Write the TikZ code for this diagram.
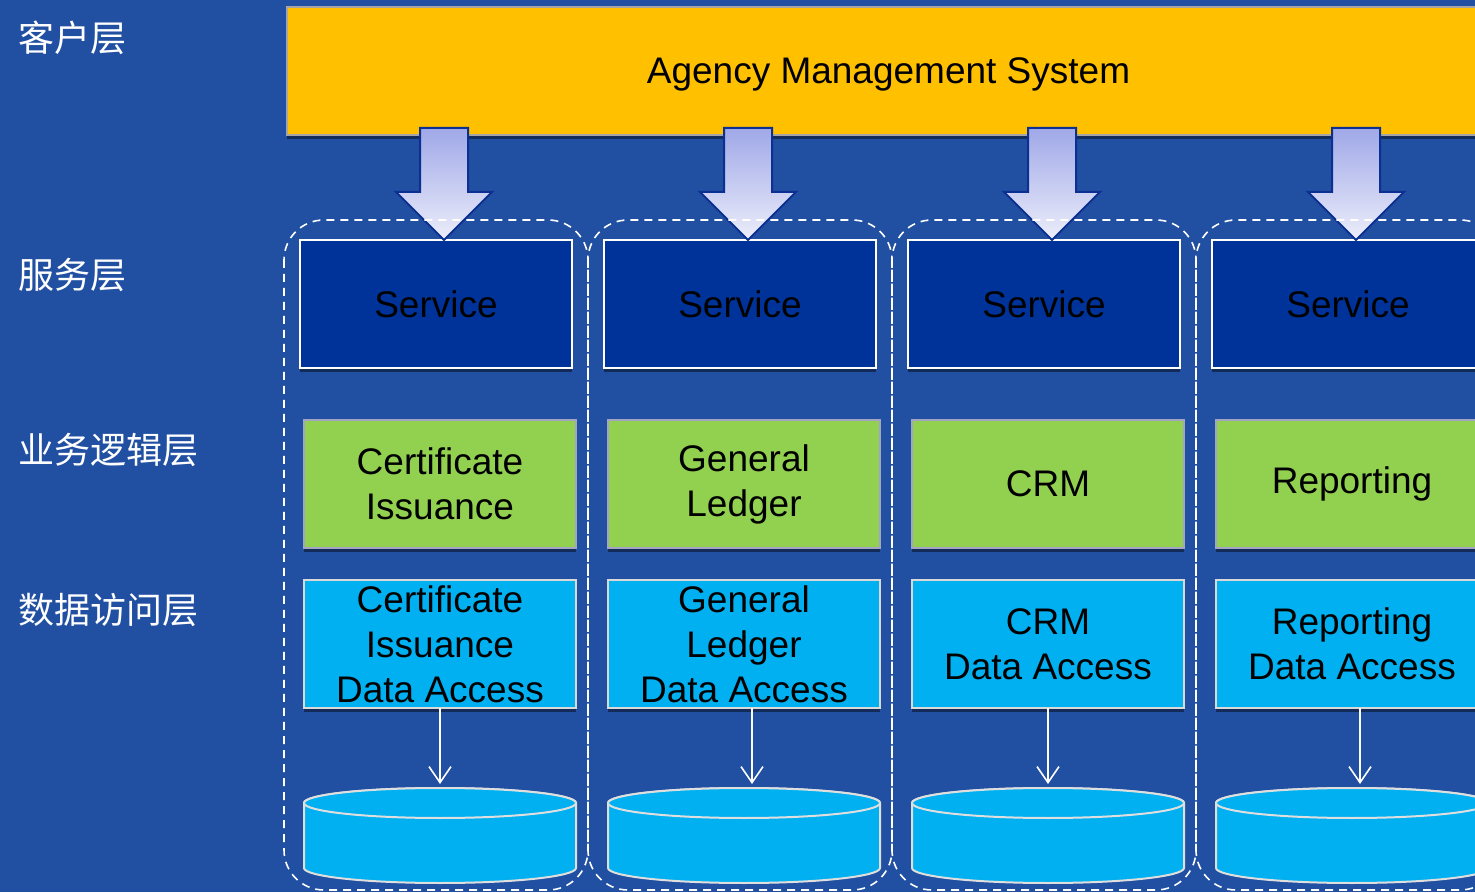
\documentclass[tikz,border=0pt]{standalone}
\usepackage{fontspec}
\setmainfont{Liberation Sans}
\newfontfamily\cjk{Noto Sans CJK SC}
\usepackage{tikz}
\usetikzlibrary{positioning,shadows,arrows.meta}

\definecolor{bgblue}{RGB}{33,80,162}
\definecolor{amsyellow}{RGB}{255,192,0}
\definecolor{svcblue}{RGB}{0,51,153}
\definecolor{bizgreen}{RGB}{146,208,80}
\definecolor{dalcyan}{RGB}{0,176,240}
\definecolor{arrowtop}{RGB}{160,168,232}
\definecolor{arrowbot}{RGB}{236,238,250}
\definecolor{arrowline}{RGB}{12,48,145}

\begin{document}
\begin{tikzpicture}[
                x=1pt, y=1pt,
                font=\fontsize{37pt}{45pt}\selectfont,
                box/.style={rectangle, align=center, inner sep=0pt, outer sep=0pt, line width=2pt,
                    minimum width=272pt, minimum height=128pt,
                    drop shadow={shadow xshift=0pt, shadow yshift=-4pt, fill=black, opacity=0.45}},
                ams/.style={box, fill=amsyellow, draw=gray!70, minimum width=1203pt},
                service/.style={box, fill=svcblue, draw=white},
                logic/.style={box, fill=bizgreen, draw=blue!20!gray!60},
                dal/.style={box, fill=dalcyan, draw=gray!30},
                dbbox/.style={rectangle, inner sep=0pt, outer sep=0pt, minimum width=272pt, minimum height=95pt},
                dbdraw/.style={fill=dalcyan, draw=gray!25, line width=2pt},
                layer/.style={anchor=west, text=white, font=\cjk\fontsize{36pt}{45pt}\selectfont},
                bigarrow/.style={top color=arrowtop, bottom color=arrowbot, draw=arrowline, line width=2pt, line join=miter},
                dataflow/.style={draw=white, line width=1.6pt, -{Straight Barb[length=16pt, width=22pt, line width=1.6pt]}, shorten >=4pt},
                group/.style={draw=white, line width=1.6pt, dash pattern=on 8pt off 6pt, rounded corners=40pt}
            ]

            \clip (0,0) rectangle (1475,892);
            \fill[bgblue] (0,0) rectangle (1475,892);

            %layer labels
            \node[layer] (lclient)  at (15,854) {客户层};
            \node[layer] (lservice) at (15,617) {服务层};
            \node[layer] (llogic)   at (15,442) {业务逻辑层};
            \node[layer] (ldata)    at (15,282) {数据访问层};

            %client
            \node[ams]          (ams)   at (888.5,821)  {\raisebox{-13pt}[0pt][0pt]{Agency Management System}};

            %services
            \node[service]      (s1)    at (436,588)    {Service};
            \foreach \i/\prev in {2/1,3/2,4/3}
                \node[service]  (s\i)   [right=32pt of s\prev] {Service};

            %business logic
            \foreach \i/\txt in {1/{Certificate\\Issuance}, 2/{General\\Ledger}, 3/CRM, 4/Reporting}
                \node[logic]    (l\i)   [below=52pt of s\i, xshift=4pt] {\txt};

            %data access
            \foreach \i/\txt in {1/{Certificate\\Issuance\\Data Access}, 2/{General\\Ledger\\Data Access},
                                 3/{CRM\\Data Access}, 4/{Reporting\\Data Access}}
                \node[dal]      (d\i)   [below=32pt of l\i] {\txt};

            %databases
            \foreach \i in {1,...,4} {
                \node[dbbox]    (db\i)  [below=80pt of d\i] {};
                \filldraw[dbdraw] ([yshift=-15pt]db\i.north west) -- ([yshift=15pt]db\i.south west)
                    arc[start angle=180, end angle=360, x radius=136pt, y radius=15pt]
                    -- ([yshift=-15pt]db\i.north east)
                    arc[start angle=0, end angle=180, x radius=136pt, y radius=15pt] -- cycle;
                \draw[dbdraw] ([yshift=-15pt]db\i.north) ellipse [x radius=136pt, y radius=15pt];
            }
            \foreach \i/\dx in {1/0,2/8,3/0,4/8}
                \draw[dataflow] ([xshift=\dx pt]d\i.south) -- ([xshift=\dx pt]db\i.north);

            %arrows from the client
            \foreach \i in {1,...,4}
                \draw[bigarrow] ([xshift=8pt]s\i.north) -- ++(48,48) -- ++(-24,0) -- ++(0,64)
                    -- ++(-48,0) -- ++(0,-64) -- ++(-24,0) -- cycle;

            %columns
            \foreach \i in {1,...,4}
                \draw[group] ([xshift=-16pt, yshift=20pt]s\i.north west) rectangle ([xshift=12pt, yshift=-7pt]db\i.south east);

            \end{tikzpicture}
\end{document}
